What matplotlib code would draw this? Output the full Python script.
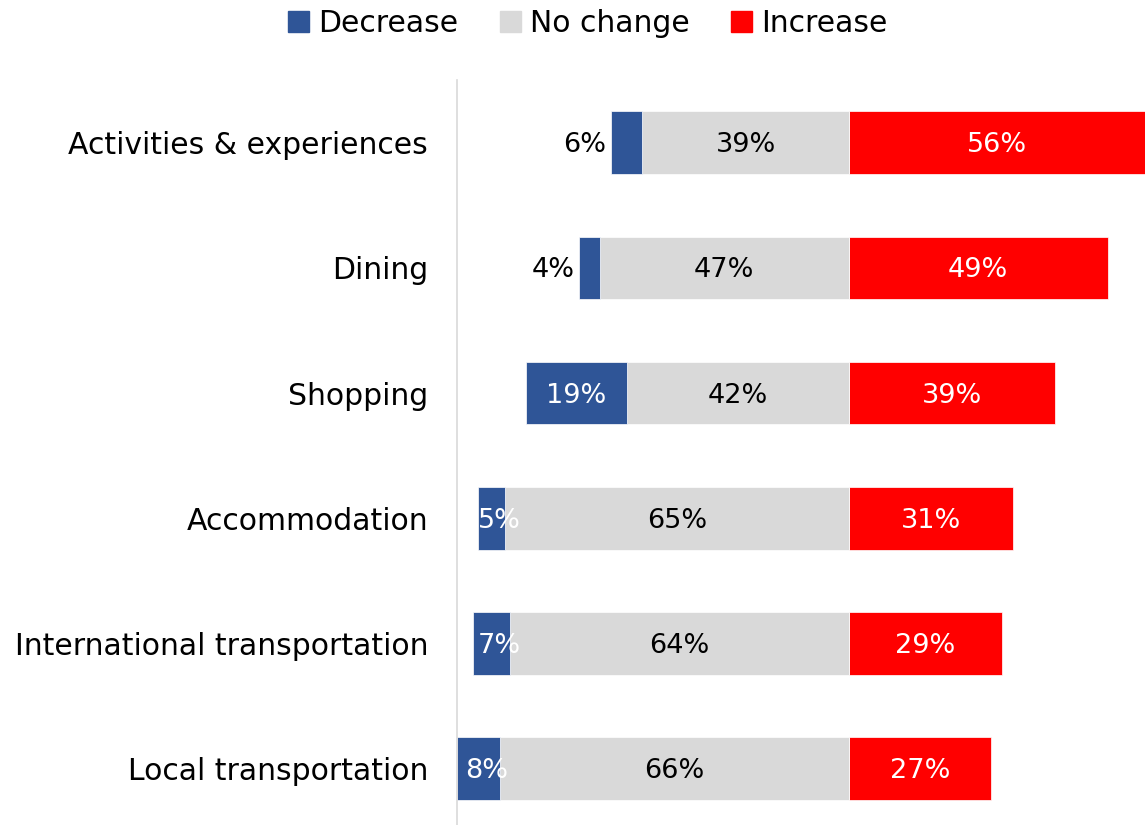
import numpy as np
import matplotlib.pyplot as plt
from matplotlib.patches import Patch

categories = ['Activities & experiences', 'Dining', 'Shopping', 'Accommodation',
              'International transportation', 'Local transportation']
decrease = [6, 4, 19, 5, 7, 8]
no_change = [39, 47, 42, 65, 64, 66]
increase = [56, 49, 39, 31, 29, 27]

BLUE = '#2F5597'
GREY = '#D9D9D9'
RED = '#FF0000'

plt.rcParams['font.family'] = ['DejaVu Sans']

fig = plt.figure(figsize=(11.46, 8.25), dpi=100)
ax = fig.add_axes([0.399, 0.0, 0.600, 0.903])

y = np.arange(len(categories))
dec = np.array(decrease)
nc = np.array(no_change)
inc = np.array(increase)

h = 0.5
ax.barh(y, inc, left=0, height=h, color=RED, edgecolor='white', linewidth=0.5)
ax.barh(y, -nc, left=0, height=h, color=GREY, edgecolor='white', linewidth=0.5)
ax.barh(y, -dec, left=-nc, height=h, color=BLUE, edgecolor='white', linewidth=0.5)

# value labels, a touch below centre like the original
fs = 19.5
dy = 0.02
for i in range(len(categories)):
    ax.text(inc[i] / 2, y[i] + dy, f'{inc[i]}%', ha='center', va='center',
            color='white', fontsize=fs)
    ax.text(-nc[i] / 2, y[i] + dy, f'{nc[i]}%', ha='center', va='center',
            color='black', fontsize=fs)
    left_end = -(nc[i] + dec[i])
    if dec[i] <= 6 and i < 2:
        ax.text(left_end - 0.8, y[i] + dy, f'{dec[i]}%', ha='right', va='center',
                color='black', fontsize=fs)
    else:
        cx = -nc[i] - dec[i] / 2
        if dec[i] < 10:
            cx += 1.5
        ax.text(cx, y[i] + dy, f'{dec[i]}%', ha='center', va='center',
                color='white', fontsize=fs)

ax.set_xlim(-74, 56)
ax.set_ylim(5.45, -0.5)
ax.set_yticks(y)
ax.set_yticklabels(categories, fontsize=21.5)
ax.tick_params(axis='y', length=0, pad=21)
ax.set_xticks([])
for s in ['top', 'right', 'bottom']:
    ax.spines[s].set_visible(False)
ax.spines['left'].set_color('#D9D9D9')
ax.spines['left'].set_linewidth(1.2)

handles = [Patch(color=BLUE, label='Decrease'),
           Patch(color=GREY, label='No change'),
           Patch(color=RED, label='Increase')]
fig.legend(handles=handles, loc='upper center', bbox_to_anchor=(0.513, 1.022),
           ncol=3, frameon=False, fontsize=21.5, handlelength=0.7,
           handleheight=0.7, handletextpad=0.3, columnspacing=1.4)

fig.savefig('out.png', dpi=100, facecolor='white')
